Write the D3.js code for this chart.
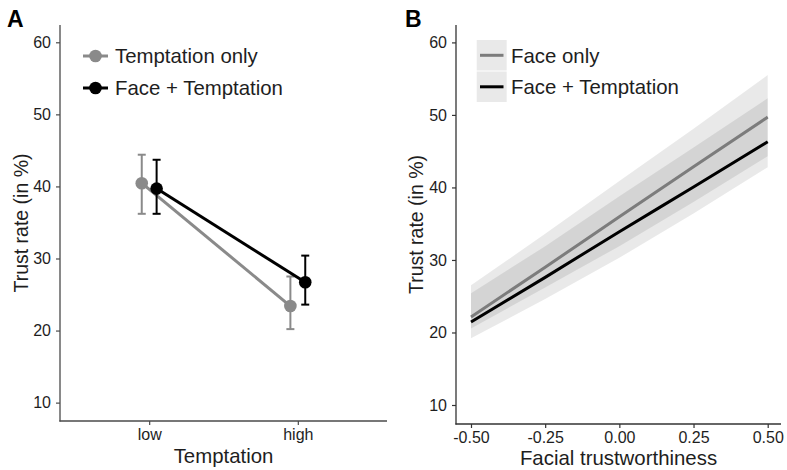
<!DOCTYPE html>
<html><head><meta charset="utf-8">
<script src="https://cdn.jsdelivr.net/npm/d3@7"></script>
<style>body{margin:0;background:#fff}svg{display:block}text{font-family:"Liberation Sans",Arial,sans-serif}</style>
</head><body><svg id="c" width="787" height="470"></svg>
<script>
// ---------- Data: panel A ----------
const temptationLevels = ["low", "high"];
const seriesA = ["Temptation only", "Face + Temptation"];
const tempOnlyMean = [40.45, 23.4];
const tempOnlyLo = [36.2, 20.2];
const tempOnlyHi = [44.4, 27.5];
const faceTempMean = [39.7, 26.7];
const faceTempLo = [36.2, 23.6];
const faceTempHi = [43.7, 30.4];
const yTicks = [10, 20, 30, 40, 50, 60];

// ---------- Data: panel B ----------
const trustX = [-0.5, -0.25, 0, 0.25, 0.5];
const xTicksB = [-0.5, -0.25, 0, 0.25, 0.5];
const seriesB = ["Face only", "Face + Temptation"];
const faceOnlyFit = [22.15, 29.0, 35.95, 42.85, 49.7];
const faceOnlyCiLo = [20.55, 26.2, 31.9, 38.0, 44.3];
const faceOnlyCiHi = [26.5, 33.6, 40.9, 48.1, 55.5];
const faceTempFit = [21.45, 27.6, 33.9, 40.05, 46.3];
const faceTempCiLo = [19.2, 24.6, 30.3, 36.4, 42.8];
const faceTempCiHi = [25.4, 31.9, 38.8, 45.5, 52.3];

const svg = d3.select("#c");
const GRAY = "#8a8a8a", BLACK = "#000";
const txt = "#1e1e1e", axisCol = "#4a4a4a";
const TITLE = "20.4px", LEG = "20.4px", TICK = "16px";
const fmtB = v => d3.format(".2f")(v).replace("\u2212", "-");

// ================= Panel A =================
{
  const L = 60, R = 387, T = 25, B = 421;
  const g = svg.append("g");
  const x = d3.scalePoint().domain(temptationLevels).range([L, R]).padding(0.6);
  const y = d3.scaleLinear().domain([7.45, 62.4]).range([B, T]);
  const step = x.step();
  const dodge = 0.05 * step;

  const yAx = g.append("g").attr("transform", `translate(${L},0)`)
    .call(d3.axisLeft(y).tickValues(yTicks).tickSize(4).tickPadding(5).tickFormat(d3.format("d")));
  yAx.select(".domain").remove();
  const xAx = g.append("g").attr("transform", `translate(0,${B})`)
    .call(d3.axisBottom(x).tickSize(4).tickPadding(4));
  xAx.select(".domain").remove();
  [yAx, xAx].forEach(a => {
    a.selectAll("line").attr("stroke", axisCol).attr("stroke-width", 1.2);
    a.selectAll("text").attr("fill", txt).style("font-size", TICK);
  });
  g.append("line").attr("x1", L).attr("x2", L).attr("y1", T).attr("y2", B + 0.6).attr("stroke", axisCol).attr("stroke-width", 1.3);
  g.append("line").attr("x1", L - 0.6).attr("x2", R).attr("y1", B).attr("y2", B).attr("stroke", axisCol).attr("stroke-width", 1.3);

  const sets = [
    {name: seriesA[0], color: GRAY, m: tempOnlyMean, lo: tempOnlyLo, hi: tempOnlyHi, off: -dodge},
    {name: seriesA[1], color: BLACK, m: faceTempMean, lo: faceTempLo, hi: faceTempHi, off: dodge}
  ];
  sets.forEach(s => {
    const pts = temptationLevels.map((c, i) => ({x: x(c) + s.off, m: s.m[i], lo: s.lo[i], hi: s.hi[i]}));
    g.append("path").datum(pts)
      .attr("d", d3.line().x(d => d.x).y(d => y(d.m)))
      .attr("fill", "none").attr("stroke", s.color).attr("stroke-width", 3);
    pts.forEach(p => {
      g.append("line").attr("x1", p.x).attr("x2", p.x).attr("y1", y(p.lo)).attr("y2", y(p.hi))
        .attr("stroke", s.color).attr("stroke-width", 2);
      [p.lo, p.hi].forEach(v => g.append("line").attr("x1", p.x - 4).attr("x2", p.x + 4)
        .attr("y1", y(v)).attr("y2", y(v)).attr("stroke", s.color).attr("stroke-width", 2));
      g.append("circle").attr("cx", p.x).attr("cy", y(p.m)).attr("r", 6.3).attr("fill", s.color);
    });
  });

  // legend
  sets.forEach((s, i) => {
    const cy = 56 + i * 32;
    g.append("line").attr("x1", 83).attr("x2", 108).attr("y1", cy).attr("y2", cy).attr("stroke", s.color).attr("stroke-width", 3);
    g.append("circle").attr("cx", 95.5).attr("cy", cy).attr("r", 6.3).attr("fill", s.color);
    g.append("text").attr("x", 115).attr("y", cy + 7.3).attr("fill", txt).style("font-size", LEG).text(s.name);
  });

  g.append("text").attr("x", (L + R) / 2).attr("y", 463).attr("text-anchor", "middle").attr("fill", txt)
    .style("font-size", TITLE).text("Temptation");
  g.append("text").attr("transform", `translate(28,${(T + B) / 2}) rotate(-90)`).attr("text-anchor", "middle")
    .attr("fill", txt).style("font-size", "19.5px").text("Trust rate (in %)");
  g.append("text").attr("x", 7).attr("y", 27).attr("fill", "#000").style("font-size", "23px").style("font-weight", "bold").text("A");
}

// ================= Panel B =================
{
  const L = 456, R = 781, T = 25, B = 424;
  const g = svg.append("g");
  const x = d3.scaleLinear().domain([-0.5, 0.5]).range([471, 767.7]);
  const y = d3.scaleLinear().domain([7.38, 62.4]).range([B, T]);

  const yAx = g.append("g").attr("transform", `translate(${L},0)`)
    .call(d3.axisLeft(y).tickValues(yTicks).tickSize(4).tickPadding(5).tickFormat(d3.format("d")));
  yAx.select(".domain").remove();
  const xAx = g.append("g").attr("transform", `translate(0,${B})`)
    .call(d3.axisBottom(x).tickValues(xTicksB).tickSize(4).tickPadding(4).tickFormat(fmtB));
  xAx.select(".domain").remove();
  [yAx, xAx].forEach(a => {
    a.selectAll("line").attr("stroke", "#333").attr("stroke-width", 1.2);
    a.selectAll("text").attr("fill", txt).style("font-size", TICK);
  });

  const ribbons = [
    {lo: faceOnlyCiLo, hi: faceOnlyCiHi},
    {lo: faceTempCiLo, hi: faceTempCiHi}
  ];
  const area = d3.area().x(d => x(d.x)).y0(d => y(d.lo)).y1(d => y(d.hi));
  ribbons.forEach(r => {
    g.append("path").datum(trustX.map((v, i) => ({x: v, lo: r.lo[i], hi: r.hi[i]})))
      .attr("d", area).attr("fill", "#000").attr("fill-opacity", 0.085);
  });
  const fits = [
    {name: seriesB[0], color: "#7c7c7c", v: faceOnlyFit},
    {name: seriesB[1], color: BLACK, v: faceTempFit}
  ];
  const line = d3.line().x(d => x(d.x)).y(d => y(d.v)).curve(d3.curveMonotoneX);
  fits.forEach(f => {
    g.append("path").datum(trustX.map((v, i) => ({x: v, v: f.v[i]})))
      .attr("d", line).attr("fill", "none").attr("stroke", f.color).attr("stroke-width", 3);
  });

  g.append("line").attr("x1", L).attr("x2", L).attr("y1", T).attr("y2", B + 0.6).attr("stroke", "#333").attr("stroke-width", 1.3);
  g.append("line").attr("x1", L - 0.6).attr("x2", R).attr("y1", B).attr("y2", B).attr("stroke", "#333").attr("stroke-width", 1.3);

  // legend
  fits.forEach((f, i) => {
    const top = 40 + i * 31.5;
    g.append("rect").attr("x", 476.7).attr("y", top).attr("width", 30).attr("height", 30.5)
      .attr("fill", "#000").attr("fill-opacity", 0.085);
    const cy = top + 15.3;
    g.append("line").attr("x1", 480).attr("x2", 503.5).attr("y1", cy).attr("y2", cy).attr("stroke", f.color).attr("stroke-width", 3);
    g.append("text").attr("x", 511).attr("y", cy + 7.3).attr("fill", txt).style("font-size", LEG).text(f.name);
  });

  g.append("text").attr("x", (L + R) / 2).attr("y", 465).attr("text-anchor", "middle").attr("fill", txt)
    .style("font-size", TITLE).text("Facial trustworthiness");
  g.append("text").attr("transform", `translate(423,${(T + B) / 2}) rotate(-90)`).attr("text-anchor", "middle")
    .attr("fill", txt).style("font-size", "19.5px").text("Trust rate (in %)");
  g.append("text").attr("x", 405).attr("y", 27).attr("fill", "#000").style("font-size", "23px").style("font-weight", "bold").text("B");
}
</script></body></html>
